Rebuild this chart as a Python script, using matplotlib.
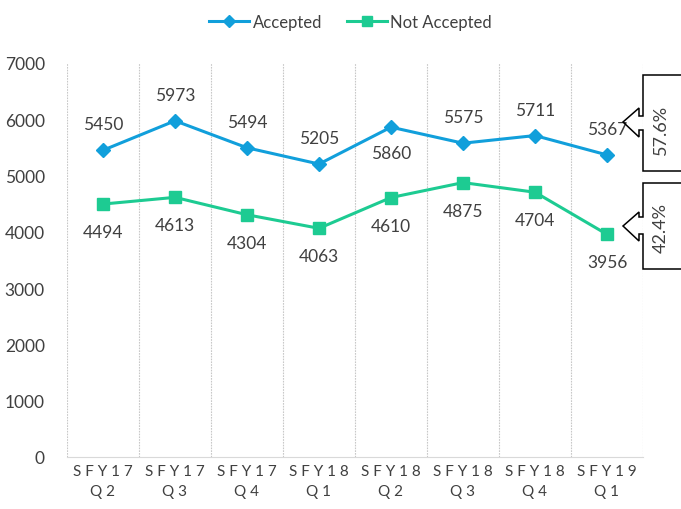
import matplotlib
matplotlib.use("Agg")
import matplotlib.pyplot as plt
from matplotlib.patches import Polygon

plt.rcParams['font.family'] = ['Lato', 'DejaVu Sans']

# data
quarters = ["SFY17\nQ2", "SFY17\nQ3", "SFY17\nQ4", "SFY18\nQ1",
            "SFY18\nQ2", "SFY18\nQ3", "SFY18\nQ4", "SFY19\nQ1"]
accepted = [5450, 5973, 5494, 5205, 5860, 5575, 5711, 5367]
not_accepted = [4494, 4613, 4304, 4063, 4610, 4875, 4704, 3956]
acc_label_below = [False, False, False, False, True, False, False, False]
share_labels = ["57.6%", "42.4%"]

BLUE = "#119FDB"
GREEN = "#1DCB92"
TXT = "#404040"

W, H = 681, 510
fig = plt.figure(figsize=(W / 100, H / 100), dpi=100)
ax = fig.add_axes([67 / W, 1 - 458 / H, (643 - 67) / W, (458 - 64) / H])

x = list(range(len(quarters)))
ax.plot(x, accepted, color=BLUE, lw=2.2, marker="D", ms=7.5, label="Accepted")
ax.plot(x, not_accepted, color=GREEN, lw=2.2, marker="s", ms=8.5, label="Not Accepted")

for i, v in enumerate(accepted):
    dy = -26 if acc_label_below[i] else 26
    ax.annotate(str(v), (i, v), xytext=(0, dy), textcoords="offset pixels",
                ha="center", va="center", fontsize=12.5, color=TXT)
for i, v in enumerate(not_accepted):
    ax.annotate(str(v), (i, v), xytext=(0, -28), textcoords="offset pixels",
                ha="center", va="center", fontsize=12.5, color=TXT)

ax.set_xlim(-0.5, len(quarters) - 0.5)
ax.set_ylim(0, 7000)
ax.set_yticks(range(0, 7001, 1000))
ax.tick_params(axis="y", length=0, pad=16, labelsize=12.5, labelcolor=TXT)

# Excel-style letter spacing on the category labels
spaced = ["\n".join(" ".join(part) for part in q.split("\n")) for q in quarters]
ax.set_xticks(x)
ax.set_xticklabels(spaced, fontsize=11, color=TXT, linespacing=1.55)
ax.tick_params(axis="x", length=0, pad=5)
ax.set_xticks([i - 0.5 for i in range(len(quarters) + 1)], minor=True)
ax.tick_params(axis="x", which="minor", length=0)
ax.grid(True, which="minor", axis="x", color="#c8c8c8", lw=0.8, ls=(0, (1.5, 1)))
ax.grid(False, which="major")

for s in ["top", "left", "right"]:
    ax.spines[s].set_visible(False)
ax.spines["bottom"].set_color("#d9d9d9")

leg = fig.legend(loc="upper center", bbox_to_anchor=(0.515, 1.0), ncol=2, frameon=False,
                 fontsize=12, handlelength=2.4, columnspacing=1.5, handletextpad=0.2,
                 labelcolor=TXT, markerscale=0.8)


def px(pts):
    return [(a / W, 1 - b / H) for a, b in pts]


def callout(top, bot, s_top, s_bot, h_top, h_bot, tip_y):
    pts = [(700, top), (643, top), (643, s_top), (639, s_top), (639, h_top),
           (623, tip_y), (639, h_bot), (639, s_bot), (643, s_bot), (643, bot),
           (700, bot)]
    fig.add_artist(Polygon(px(pts), closed=False, fill=False, edgecolor="black",
                           lw=1.1, transform=fig.transFigure))


callout(76, 172, 117, 131, 109, 138, 123)
callout(184, 270, 218, 235, 213, 242, 227)
fig.text(661 / W, 1 - 130 / H, share_labels[0], rotation=90, ha="center", va="center",
         fontsize=13, color=TXT)
fig.text(661 / W, 1 - 228 / H, share_labels[1], rotation=90, ha="center", va="center",
         fontsize=13, color=TXT)

fig.savefig("out.png", dpi=100)
